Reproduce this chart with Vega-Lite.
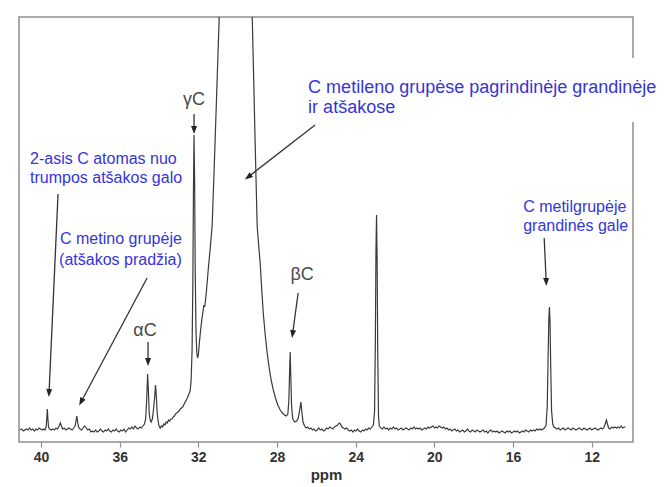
{
  "$schema": "https://vega.github.io/schema/vega-lite/v6.json",
  "width": 614,
  "height": 425,
  "autosize": {"type": "none"},
  "padding": {"left": 19, "top": 17, "right": 33, "bottom": 45},
  "background": "white",
  "config": {
    "view": {"stroke": "#8f8f8f", "strokeWidth": 1.5},
    "font": "Liberation Sans"
  },
  "datasets": {
    "spectrum": [
      {"ppm":41.07,"i":1},{"ppm":40.98,"i":2},{"ppm":40.9,"i":0},{"ppm":40.82,"i":1},{"ppm":40.74,"i":2},{"ppm":40.66,"i":1},{"ppm":40.58,"i":3},{"ppm":40.5,"i":1},{"ppm":40.42,"i":2},{"ppm":40.34,"i":0},{"ppm":40.26,"i":2},{"ppm":40.18,"i":1},{"ppm":40.1,"i":3},{"ppm":40.02,"i":2},{"ppm":39.94,"i":1},{"ppm":39.86,"i":2},{"ppm":39.8,"i":1},{"ppm":39.74,"i":4},{"ppm":39.71,"i":12},{"ppm":39.68,"i":22},{"ppm":39.65,"i":12},{"ppm":39.62,"i":4},{"ppm":39.56,"i":2},{"ppm":39.48,"i":1},{"ppm":39.4,"i":2},{"ppm":39.32,"i":1},{"ppm":39.24,"i":3},{"ppm":39.16,"i":2},{"ppm":39.08,"i":5},{"ppm":39.02,"i":8},{"ppm":38.96,"i":5},{"ppm":38.9,"i":2},{"ppm":38.82,"i":3},{"ppm":38.74,"i":1},{"ppm":38.66,"i":2},{"ppm":38.58,"i":3},{"ppm":38.5,"i":2},{"ppm":38.42,"i":1},{"ppm":38.34,"i":3},{"ppm":38.27,"i":5},{"ppm":38.22,"i":10},{"ppm":38.18,"i":15},{"ppm":38.14,"i":9},{"ppm":38.09,"i":4},{"ppm":38.02,"i":2},{"ppm":37.94,"i":1},{"ppm":37.86,"i":3},{"ppm":37.78,"i":5},{"ppm":37.7,"i":3},{"ppm":37.62,"i":1},{"ppm":37.54,"i":2},{"ppm":37.46,"i":-1},{"ppm":37.38,"i":0},{"ppm":37.3,"i":-1},{"ppm":37.22,"i":1},{"ppm":37.14,"i":-1},{"ppm":37.06,"i":0},{"ppm":36.98,"i":2},{"ppm":36.9,"i":0},{"ppm":36.82,"i":-1},{"ppm":36.74,"i":1},{"ppm":36.66,"i":0},{"ppm":36.58,"i":2},{"ppm":36.5,"i":0},{"ppm":36.42,"i":-1},{"ppm":36.34,"i":1},{"ppm":36.26,"i":0},{"ppm":36.18,"i":2},{"ppm":36.1,"i":0},{"ppm":36.02,"i":-1},{"ppm":35.94,"i":1},{"ppm":35.86,"i":0},{"ppm":35.78,"i":2},{"ppm":35.7,"i":-1},{"ppm":35.62,"i":1},{"ppm":35.54,"i":3},{"ppm":35.46,"i":2},{"ppm":35.38,"i":4},{"ppm":35.3,"i":2},{"ppm":35.22,"i":5},{"ppm":35.14,"i":3},{"ppm":35.06,"i":2},{"ppm":34.98,"i":4},{"ppm":34.9,"i":3},{"ppm":34.82,"i":5},{"ppm":34.74,"i":7},{"ppm":34.68,"i":12},{"ppm":34.63,"i":30},{"ppm":34.58,"i":57},{"ppm":34.54,"i":40},{"ppm":34.5,"i":18},{"ppm":34.45,"i":11},{"ppm":34.4,"i":9},{"ppm":34.34,"i":12},{"ppm":34.28,"i":22},{"ppm":34.22,"i":34},{"ppm":34.18,"i":46},{"ppm":34.14,"i":36},{"ppm":34.1,"i":20},{"ppm":34.05,"i":10},{"ppm":34.0,"i":5},{"ppm":33.94,"i":3},{"ppm":33.88,"i":5},{"ppm":33.82,"i":4},{"ppm":33.76,"i":7},{"ppm":33.7,"i":6},{"ppm":33.64,"i":9},{"ppm":33.58,"i":8},{"ppm":33.52,"i":11},{"ppm":33.46,"i":10},{"ppm":33.4,"i":12},{"ppm":33.34,"i":12},{"ppm":33.28,"i":14},{"ppm":33.22,"i":15},{"ppm":33.16,"i":17},{"ppm":33.1,"i":18},{"ppm":33.04,"i":19},{"ppm":32.98,"i":20},{"ppm":32.92,"i":22},{"ppm":32.86,"i":23},{"ppm":32.8,"i":24},{"ppm":32.72,"i":27},{"ppm":32.64,"i":30},{"ppm":32.56,"i":33},{"ppm":32.48,"i":37},{"ppm":32.42,"i":40},{"ppm":32.37,"i":50},{"ppm":32.32,"i":80},{"ppm":32.28,"i":150},{"ppm":32.25,"i":240},{"ppm":32.22,"i":296},{"ppm":32.19,"i":250},{"ppm":32.16,"i":160},{"ppm":32.12,"i":100},{"ppm":32.08,"i":78},{"ppm":32.04,"i":73},{"ppm":32.0,"i":76},{"ppm":31.94,"i":90},{"ppm":31.88,"i":102},{"ppm":31.82,"i":112},{"ppm":31.76,"i":120},{"ppm":31.72,"i":126},{"ppm":31.68,"i":124},{"ppm":31.64,"i":130},{"ppm":31.58,"i":142},{"ppm":31.5,"i":161},{"ppm":31.4,"i":182},{"ppm":31.3,"i":205},{"ppm":31.2,"i":260},{"ppm":31.1,"i":319},{"ppm":31.0,"i":378},{"ppm":30.9,"i":437},{"ppm":30.5,"i":900},{"ppm":30.1,"i":1200},{"ppm":29.7,"i":900},{"ppm":29.3,"i":448},{"ppm":29.2,"i":363},{"ppm":29.1,"i":278},{"ppm":29.01,"i":205},{"ppm":28.93,"i":185},{"ppm":28.85,"i":166},{"ppm":28.78,"i":142},{"ppm":28.7,"i":118},{"ppm":28.6,"i":96},{"ppm":28.5,"i":78},{"ppm":28.4,"i":63},{"ppm":28.3,"i":51},{"ppm":28.19,"i":41},{"ppm":28.08,"i":33},{"ppm":27.96,"i":26},{"ppm":27.84,"i":21},{"ppm":27.72,"i":18},{"ppm":27.62,"i":16},{"ppm":27.53,"i":15},{"ppm":27.45,"i":17},{"ppm":27.4,"i":30},{"ppm":27.36,"i":60},{"ppm":27.33,"i":79},{"ppm":27.3,"i":55},{"ppm":27.26,"i":25},{"ppm":27.2,"i":12},{"ppm":27.1,"i":9},{"ppm":27.0,"i":10},{"ppm":26.92,"i":13},{"ppm":26.84,"i":22},{"ppm":26.79,"i":29},{"ppm":26.74,"i":20},{"ppm":26.68,"i":9},{"ppm":26.6,"i":5},{"ppm":26.52,"i":3},{"ppm":26.44,"i":4},{"ppm":26.36,"i":2},{"ppm":26.28,"i":3},{"ppm":26.2,"i":1},{"ppm":26.12,"i":2},{"ppm":26.04,"i":0},{"ppm":25.96,"i":1},{"ppm":25.88,"i":3},{"ppm":25.8,"i":1},{"ppm":25.72,"i":2},{"ppm":25.64,"i":0},{"ppm":25.56,"i":1},{"ppm":25.48,"i":3},{"ppm":25.4,"i":2},{"ppm":25.32,"i":4},{"ppm":25.24,"i":3},{"ppm":25.16,"i":2},{"ppm":25.08,"i":4},{"ppm":25.0,"i":5},{"ppm":24.92,"i":6},{"ppm":24.84,"i":8},{"ppm":24.78,"i":7},{"ppm":24.7,"i":4},{"ppm":24.62,"i":3},{"ppm":24.54,"i":2},{"ppm":24.46,"i":3},{"ppm":24.38,"i":1},{"ppm":24.3,"i":0},{"ppm":24.22,"i":1},{"ppm":24.14,"i":-1},{"ppm":24.06,"i":1},{"ppm":23.98,"i":0},{"ppm":23.9,"i":2},{"ppm":23.82,"i":0},{"ppm":23.74,"i":-1},{"ppm":23.66,"i":1},{"ppm":23.58,"i":0},{"ppm":23.5,"i":2},{"ppm":23.42,"i":1},{"ppm":23.34,"i":3},{"ppm":23.26,"i":2},{"ppm":23.18,"i":4},{"ppm":23.1,"i":6},{"ppm":23.04,"i":20},{"ppm":23.0,"i":90},{"ppm":22.97,"i":180},{"ppm":22.94,"i":216},{"ppm":22.91,"i":170},{"ppm":22.88,"i":80},{"ppm":22.84,"i":15},{"ppm":22.8,"i":5},{"ppm":22.72,"i":3},{"ppm":22.64,"i":2},{"ppm":22.56,"i":4},{"ppm":22.48,"i":2},{"ppm":22.4,"i":3},{"ppm":22.32,"i":1},{"ppm":22.24,"i":3},{"ppm":22.16,"i":2},{"ppm":22.08,"i":4},{"ppm":22.0,"i":2},{"ppm":21.92,"i":3},{"ppm":21.84,"i":1},{"ppm":21.76,"i":2},{"ppm":21.68,"i":3},{"ppm":21.6,"i":1},{"ppm":21.52,"i":2},{"ppm":21.44,"i":3},{"ppm":21.36,"i":2},{"ppm":21.28,"i":1},{"ppm":21.2,"i":3},{"ppm":21.12,"i":2},{"ppm":21.04,"i":4},{"ppm":20.96,"i":2},{"ppm":20.88,"i":3},{"ppm":20.8,"i":2},{"ppm":20.72,"i":3},{"ppm":20.64,"i":1},{"ppm":20.56,"i":2},{"ppm":20.48,"i":3},{"ppm":20.4,"i":2},{"ppm":20.32,"i":4},{"ppm":20.24,"i":3},{"ppm":20.16,"i":4},{"ppm":20.08,"i":5},{"ppm":20.0,"i":3},{"ppm":19.92,"i":4},{"ppm":19.84,"i":3},{"ppm":19.76,"i":5},{"ppm":19.68,"i":4},{"ppm":19.6,"i":3},{"ppm":19.52,"i":4},{"ppm":19.44,"i":2},{"ppm":19.36,"i":3},{"ppm":19.28,"i":1},{"ppm":19.2,"i":2},{"ppm":19.12,"i":0},{"ppm":19.04,"i":1},{"ppm":18.96,"i":2},{"ppm":18.88,"i":0},{"ppm":18.8,"i":1},{"ppm":18.72,"i":-1},{"ppm":18.64,"i":0},{"ppm":18.56,"i":1},{"ppm":18.48,"i":-1},{"ppm":18.4,"i":0},{"ppm":18.32,"i":2},{"ppm":18.24,"i":0},{"ppm":18.16,"i":-1},{"ppm":18.08,"i":1},{"ppm":18.0,"i":0},{"ppm":17.92,"i":-1},{"ppm":17.84,"i":1},{"ppm":17.76,"i":0},{"ppm":17.68,"i":-1},{"ppm":17.6,"i":0},{"ppm":17.52,"i":1},{"ppm":17.44,"i":-1},{"ppm":17.36,"i":0},{"ppm":17.28,"i":-2},{"ppm":17.2,"i":0},{"ppm":17.12,"i":1},{"ppm":17.04,"i":-1},{"ppm":16.96,"i":0},{"ppm":16.88,"i":-1},{"ppm":16.8,"i":0},{"ppm":16.72,"i":-2},{"ppm":16.64,"i":-1},{"ppm":16.56,"i":0},{"ppm":16.48,"i":-1},{"ppm":16.4,"i":-2},{"ppm":16.32,"i":0},{"ppm":16.24,"i":-1},{"ppm":16.16,"i":0},{"ppm":16.08,"i":-2},{"ppm":16.0,"i":-1},{"ppm":15.92,"i":0},{"ppm":15.84,"i":-1},{"ppm":15.76,"i":0},{"ppm":15.68,"i":-2},{"ppm":15.6,"i":-1},{"ppm":15.52,"i":0},{"ppm":15.44,"i":-1},{"ppm":15.36,"i":1},{"ppm":15.28,"i":0},{"ppm":15.2,"i":-1},{"ppm":15.12,"i":1},{"ppm":15.04,"i":0},{"ppm":14.96,"i":1},{"ppm":14.88,"i":0},{"ppm":14.8,"i":2},{"ppm":14.72,"i":1},{"ppm":14.64,"i":2},{"ppm":14.56,"i":1},{"ppm":14.48,"i":2},{"ppm":14.4,"i":3},{"ppm":14.32,"i":6},{"ppm":14.26,"i":25},{"ppm":14.22,"i":70},{"ppm":14.18,"i":112},{"ppm":14.15,"i":124},{"ppm":14.12,"i":110},{"ppm":14.08,"i":60},{"ppm":14.04,"i":20},{"ppm":13.98,"i":7},{"ppm":13.92,"i":4},{"ppm":13.84,"i":3},{"ppm":13.76,"i":2},{"ppm":13.68,"i":3},{"ppm":13.6,"i":1},{"ppm":13.52,"i":2},{"ppm":13.44,"i":3},{"ppm":13.36,"i":1},{"ppm":13.28,"i":2},{"ppm":13.2,"i":3},{"ppm":13.12,"i":2},{"ppm":13.04,"i":1},{"ppm":12.96,"i":3},{"ppm":12.88,"i":2},{"ppm":12.8,"i":1},{"ppm":12.72,"i":2},{"ppm":12.64,"i":3},{"ppm":12.56,"i":2},{"ppm":12.48,"i":1},{"ppm":12.4,"i":3},{"ppm":12.32,"i":2},{"ppm":12.24,"i":1},{"ppm":12.16,"i":2},{"ppm":12.08,"i":3},{"ppm":12.0,"i":1},{"ppm":11.92,"i":2},{"ppm":11.84,"i":3},{"ppm":11.76,"i":2},{"ppm":11.68,"i":1},{"ppm":11.6,"i":2},{"ppm":11.52,"i":3},{"ppm":11.44,"i":2},{"ppm":11.36,"i":4},{"ppm":11.3,"i":8},{"ppm":11.25,"i":11},{"ppm":11.2,"i":7},{"ppm":11.14,"i":3},{"ppm":11.06,"i":2},{"ppm":10.98,"i":4},{"ppm":10.9,"i":3},{"ppm":10.82,"i":4},{"ppm":10.74,"i":3},{"ppm":10.66,"i":4},{"ppm":10.58,"i":3},{"ppm":10.5,"i":5},{"ppm":10.42,"i":3},{"ppm":10.34,"i":4},{"ppm":10.28,"i":4}
    ],
    "arrows": [
      {"id":"asis","x":39.135,"y":237,"x2":39.593,"y2":38},
      {"id":"metino","x":34.608,"y":153,"x2":37.965,"y2":29},
      {"id":"metileno","x":26.063,"y":306,"x2":29.471,"y2":254},
      {"id":"gamma","x":32.218,"y":317,"x2":32.218,"y2":301},
      {"id":"alpha","x":34.558,"y":89,"x2":34.558,"y2":69},
      {"id":"beta","x":26.928,"y":138,"x2":27.208,"y2":97},
      {"id":"metil","x":14.415,"y":193,"x2":14.313,"y2":149}
    ],
    "labelbox": [
      {"x":26.6,"x2":8.5,"y":373,"y2":309}
    ],
    "blue16": [
      {"x":40.56,"y":272,"t":"2-asis C atomas nuo"},
      {"x":40.56,"y":253,"t":"trumpos atšakos galo"},
      {"x":39.034,"y":192,"t":"C metino grupėje"},
      {"x":39.08,"y":171,"t":"(atšakos pradžia)"},
      {"x":15.483,"y":224,"t":"C metilgrupėje"},
      {"x":15.483,"y":205,"t":"grandinės gale"}
    ],
    "blue18": [
      {"x":26.419,"y":343,"t":"C metileno grupėse pagrindinėje grandinėje"},
      {"x":26.419,"y":323,"t":"ir atšakose"}
    ],
    "greek": [
      {"x":32.218,"y":331,"t":"γC"},
      {"x":34.71,"y":100,"t":"αC"},
      {"x":26.724,"y":156,"t":"βC"}
    ]
  },
  "encoding": {
    "x": {
      "type": "quantitative",
      "scale": {"domain": [9.9, 41.12], "reverse": true, "nice": false, "zero": false},
      "axis": {
        "orient": "bottom",
        "values": [12, 16, 20, 24, 28, 32, 36, 40],
        "domain": false,
        "grid": false,
        "tickSize": 5,
        "tickColor": "#8f8f8f",
        "tickWidth": 1.2,
        "labelFont": "Liberation Sans",
        "labelFontWeight": "bold",
        "labelFontSize": 14,
        "labelColor": "#333333",
        "labelPadding": 3,
        "labelFlush": false,
        "title": "ppm",
        "titleFont": "Liberation Sans",
        "titleFontSize": 15,
        "titleFontWeight": "bold",
        "titleColor": "#333333",
        "titlePadding": 3
      }
    },
    "y": {
      "type": "quantitative",
      "scale": {"domain": [-11, 414], "nice": false, "zero": false},
      "axis": null
    }
  },
  "layer": [
    {
      "data": {"name": "labelbox"},
      "mark": {"type": "rect", "fill": "white", "stroke": null, "clip": false},
      "encoding": {
        "x": {"field": "x", "type": "quantitative"},
        "x2": {"field": "x2"},
        "y": {"field": "y", "type": "quantitative"},
        "y2": {"field": "y2"}
      }
    },
    {
      "data": {"name": "spectrum"},
      "mark": {"type": "line", "color": "#3a3a3a", "strokeWidth": 1.2, "clip": true},
      "encoding": {
        "x": {"field": "ppm", "type": "quantitative"},
        "y": {"field": "i", "type": "quantitative"},
        "order": {"field": "ppm", "sort": "descending"}
      }
    },
    {
      "data": {"name": "arrows"},
      "mark": {"type": "rule", "color": "#333333", "strokeWidth": 1.3},
      "encoding": {
        "x": {"field": "x", "type": "quantitative"},
        "y": {"field": "y", "type": "quantitative"},
        "x2": {"field": "x2"},
        "y2": {"field": "y2"}
      }
    },
    {
      "data": {"name": "arrows"},
      "mark": {"type": "point", "filled": true, "color": "#222222", "opacity": 1, "size": 64, "strokeWidth": 0},
      "encoding": {
        "x": {"field": "x2", "type": "quantitative"},
        "y": {"field": "y2", "type": "quantitative"},
        "shape": {
          "field": "id", "type": "nominal", "legend": null,
          "scale": {
            "domain": ["asis", "metino", "metileno", "gamma", "alpha", "beta", "metil"],
            "range": [
              "M-0.045,0.999L-0.704,-1.033L0.795,-0.965Z",
              "M-0.466,0.885L-0.197,-1.235L1.130,-0.535Z",
              "M-0.792,0.610L0.335,-1.204L1.250,-0.016Z",
              "M0,1L-0.75,-1L0.75,-1Z",
              "M0,1L-0.75,-1L0.75,-1Z",
              "M-0.132,0.991L-0.611,-1.090L0.875,-0.892Z",
              "M0.040,0.999L-0.789,-0.969L0.709,-1.029Z"
            ]
          }
        }
      }
    },
    {
      "data": {"name": "blue16"},
      "mark": {"type": "text", "align": "left", "baseline": "middle", "font": "Liberation Sans", "fontSize": 16, "color": "#3535d8"},
      "encoding": {
        "x": {"field": "x", "type": "quantitative"},
        "y": {"field": "y", "type": "quantitative"},
        "text": {"field": "t"}
      }
    },
    {
      "data": {"name": "blue18"},
      "mark": {"type": "text", "align": "left", "baseline": "middle", "font": "Liberation Sans", "fontSize": 18, "color": "#3535d8"},
      "encoding": {
        "x": {"field": "x", "type": "quantitative"},
        "y": {"field": "y", "type": "quantitative"},
        "text": {"field": "t"}
      }
    },
    {
      "data": {"name": "greek"},
      "mark": {"type": "text", "align": "center", "baseline": "middle", "font": "Liberation Sans", "fontSize": 18, "color": "#4a4a4a"},
      "encoding": {
        "x": {"field": "x", "type": "quantitative"},
        "y": {"field": "y", "type": "quantitative"},
        "text": {"field": "t"}
      }
    }
  ]
}
